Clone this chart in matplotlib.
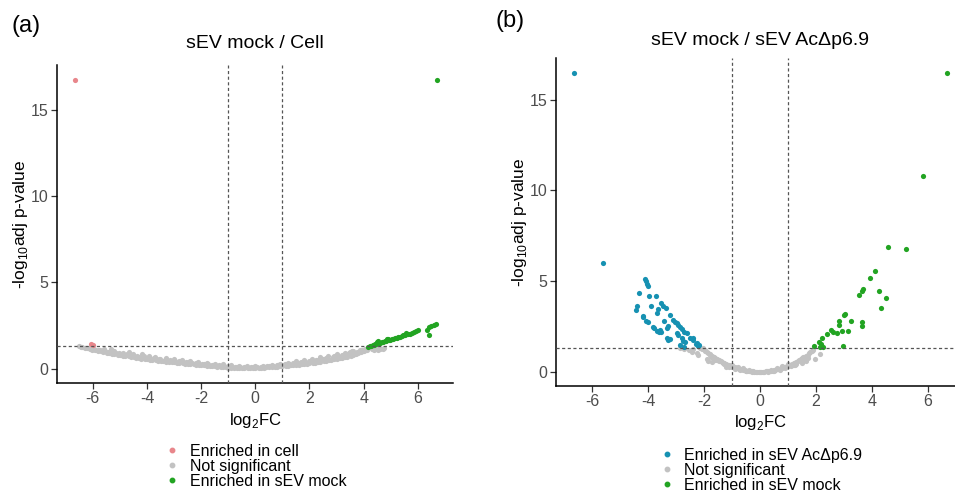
import matplotlib
matplotlib.use("Agg")
import matplotlib.pyplot as plt
from matplotlib.lines import Line2D

plt.rcParams['font.family'] = ['Liberation Sans', 'DejaVu Sans']
plt.rcParams['mathtext.fontset'] = 'custom'
plt.rcParams['mathtext.rm'] = 'Liberation Sans'
plt.rcParams['axes.unicode_minus'] = False

col_cell = "#E8868B"
col_ns = "#C2C2C2"
col_mock = "#22A422"
col_ac = "#1691B2"

# points as (log2FC, -log10 adj p) pairs

# ---- panel (a): sEV mock / Cell ----
a_cell = [(-6.65, 16.75), (-6.05, 1.42), (-5.98, 1.38)]

a_mock = [(6.69, 16.75), (4.16, 1.24), (4.22, 1.28), (4.28, 1.30), (4.33, 1.34), (4.38, 1.36),
          (4.42, 1.40), (4.47, 1.42), (4.50, 1.52), (4.53, 1.59), (4.57, 1.47), (4.62, 1.49),
          (4.68, 1.53), (4.73, 1.56), (4.78, 1.58), (4.82, 1.62), (4.86, 1.69), (4.90, 1.72),
          (4.93, 1.65), (4.98, 1.68), (5.04, 1.71), (5.10, 1.74), (5.16, 1.77), (5.22, 1.80),
          (5.28, 1.83), (5.33, 1.86), (5.40, 1.89), (5.46, 1.92), (5.52, 1.97), (5.58, 2.05),
          (5.63, 2.00), (5.70, 2.03), (5.78, 2.08), (5.85, 2.12), (5.93, 2.16), (6.01, 2.21),
          (6.32, 2.25), (6.40, 2.40), (6.48, 2.46), (6.58, 2.52), (6.66, 2.60), (6.41, 1.92)]

a_ns = [(-6.52, 1.30), (-6.45, 1.24), (-6.38, 1.27), (-6.30, 1.20), (-6.22, 1.17), (-6.15, 1.22),
        (-6.10, 1.12), (-6.02, 1.09), (-5.95, 1.16), (-5.90, 1.06), (-5.82, 1.03), (-5.75, 1.10),
        (-5.70, 0.99), (-5.62, 0.96), (-5.55, 1.03), (-5.48, 0.93), (-5.40, 0.90), (-5.31, 1.14),
        (-5.35, 0.98), (-5.28, 0.86), (-5.20, 0.84), (-5.15, 0.92), (-5.08, 0.80), (-5.00, 0.78),
        (-4.95, 0.86), (-4.88, 0.75), (-4.80, 0.72), (-4.75, 0.82), (-4.66, 0.95), (-4.68, 0.70),
        (-4.60, 0.68), (-4.55, 0.76), (-4.48, 0.65), (-4.40, 0.62), (-4.35, 0.72), (-4.28, 0.60),
        (-4.20, 0.85), (-4.22, 0.58), (-4.15, 0.66), (-4.08, 0.56), (-4.00, 0.54), (-3.92, 0.72),
        (-3.95, 0.62), (-3.88, 0.52), (-3.80, 0.50), (-3.75, 0.59), (-3.68, 0.48), (-3.60, 0.46),
        (-3.55, 0.56), (-3.48, 0.44), (-3.40, 0.42), (-3.35, 0.52), (-3.28, 0.40), (-3.20, 0.39),
        (-3.15, 0.48), (-3.08, 0.37), (-3.00, 0.36), (-2.95, 0.44), (-2.88, 0.34), (-2.80, 0.33),
        (-2.75, 0.42), (-2.68, 0.31), (-2.60, 0.29), (-2.55, 0.38), (-2.48, 0.28), (-2.40, 0.26),
        (-2.35, 0.35), (-2.28, 0.24), (-2.20, 0.23), (-2.15, 0.31), (-2.08, 0.21), (-2.00, 0.20),
        (-1.95, 0.28), (-1.88, 0.18), (-1.80, 0.17), (-1.75, 0.24), (-1.68, 0.15), (-1.60, 0.14),
        (-1.55, 0.21), (-1.48, 0.12), (-1.40, 0.11), (-1.35, 0.18), (-1.28, 0.10), (-1.20, 0.09),
        (-1.15, 0.15), (-1.08, 0.07), (-1.00, 0.06), (-0.95, 0.12), (-0.88, 0.05), (-0.80, 0.04),
        (-0.75, 0.10), (-0.68, 0.03), (-0.60, 0.03), (-0.55, 0.08), (-0.48, 0.02), (-0.40, 0.02),
        (-0.35, 0.07), (-0.28, 0.02), (-0.20, 0.03), (-0.15, 0.07), (-0.08, 0.03), (0.00, 0.04),
        (0.05, 0.08), (0.12, 0.04), (0.20, 0.05), (0.25, 0.10), (0.32, 0.06), (0.40, 0.07),
        (0.45, 0.12), (0.52, 0.08), (0.60, 0.09), (0.65, 0.15), (0.72, 0.10), (0.80, 0.11),
        (0.85, 0.18), (0.92, 0.12), (1.00, 0.13), (1.05, 0.21), (1.12, 0.15), (1.20, 0.16),
        (1.25, 0.25), (1.32, 0.18), (1.40, 0.19), (1.45, 0.29), (1.52, 0.21), (1.60, 0.23),
        (1.65, 0.33), (1.72, 0.25), (1.80, 0.27), (1.85, 0.38), (1.92, 0.29), (2.00, 0.31),
        (2.05, 0.43), (2.12, 0.33), (2.20, 0.35), (2.25, 0.48), (2.32, 0.37), (2.40, 0.40),
        (2.45, 0.53), (2.52, 0.42), (2.60, 0.45), (2.65, 0.59), (2.72, 0.47), (2.80, 0.50),
        (2.85, 0.65), (2.92, 0.53), (3.00, 0.56), (3.05, 0.73), (3.12, 0.59), (3.20, 0.62),
        (3.25, 0.81), (3.32, 0.65), (3.40, 0.69), (3.45, 0.89), (3.50, 0.95), (3.52, 0.73),
        (3.58, 1.02), (3.60, 0.77), (3.65, 0.86), (3.72, 0.83), (3.80, 0.91), (3.85, 1.10),
        (3.92, 0.96), (4.00, 1.01), (4.05, 1.15), (4.12, 1.06), (4.30, 1.12), (4.45, 1.18),
        (4.60, 1.16), (4.52, 1.08), (4.75, 1.22), (4.70, 1.13),
        (-5.60, 1.12), (-5.20, 1.00), (-4.90, 0.92), (-4.50, 0.82), (-4.10, 0.74), (-3.70, 0.66),
        (-3.30, 0.60), (-3.00, 0.55), (-2.70, 0.50), (-2.40, 0.45), (-2.10, 0.40), (-1.80, 0.34),
        (-1.50, 0.29), (-1.20, 0.24), (-0.90, 0.19), (-0.60, 0.15), (-0.30, 0.13), (0.00, 0.14),
        (0.30, 0.17), (0.60, 0.22), (0.90, 0.28), (1.20, 0.35), (1.50, 0.42), (1.80, 0.50),
        (2.10, 0.58), (2.40, 0.66), (2.70, 0.75), (3.00, 0.84), (3.30, 0.93), (3.60, 1.00),
        (3.40, 0.78), (2.90, 0.62), (2.50, 0.55),
        (-5.80, 1.06), (-5.45, 0.97), (-5.05, 0.88), (-4.70, 0.78), (-4.30, 0.69), (-3.90, 0.60),
        (-3.50, 0.53), (-3.10, 0.46), (-2.80, 0.42), (-2.50, 0.36), (-2.20, 0.32), (-1.90, 0.26),
        (-1.60, 0.22), (-1.30, 0.17), (-1.00, 0.14), (-0.70, 0.10), (-0.40, 0.08), (-0.10, 0.09),
        (0.20, 0.11), (0.50, 0.15), (0.80, 0.20), (1.10, 0.25), (1.40, 0.30), (1.70, 0.38),
        (2.00, 0.45), (2.30, 0.52), (2.60, 0.60), (2.90, 0.70), (3.20, 0.76), (3.50, 0.85),
        (3.75, 0.98), (3.95, 1.08), (4.40, 1.05), (4.55, 1.22)]

# ---- panel (b): sEV mock / sEV AcDp6.9 ----
b_ac = [(-6.63, 16.45), (-5.60, 6.00), (-4.10, 5.10), (-4.07, 5.00), (-4.03, 4.85), (-4.00, 4.75),
        (-4.31, 4.33), (-3.95, 4.20), (-3.71, 4.17), (-4.38, 3.63), (-4.44, 3.42), (-3.90, 3.63),
        (-3.54, 3.78), (-3.48, 3.63), (-3.65, 3.47), (-3.69, 3.27), (-3.36, 3.51), (-3.21, 3.14),
        (-4.17, 3.09), (-4.07, 2.81), (-3.99, 2.77), (-3.43, 2.81), (-3.10, 2.86), (-3.04, 2.77),
        (-2.98, 2.68), (-2.92, 2.59), (-2.86, 2.46), (-2.80, 2.35), (-2.71, 2.22), (-2.62, 2.13),
        (-3.27, 2.53), (-3.33, 2.41), (-3.81, 2.46), (-3.69, 2.28), (-3.60, 2.19), (-3.54, 2.22),
        (-2.98, 2.13), (-2.92, 2.04), (-3.33, 1.86), (-3.27, 1.76), (-2.80, 1.86), (-2.74, 1.72),
        (-2.68, 1.67), (-2.40, 1.86), (-2.26, 1.61), (-2.17, 1.49), (-2.86, 1.49), (-2.71, 1.39),
        (-4.17, 3.05), (-3.79, 2.41), (-3.57, 2.31), (-3.21, 1.82), (-2.50, 1.86), (-2.38, 1.76),
        (-2.30, 1.55), (-2.20, 1.42)]

b_mock = [(6.67, 16.45), (5.81, 10.82), (4.58, 6.90), (5.21, 6.76), (4.11, 5.58), (3.94, 5.20),
          (3.69, 4.57), (3.63, 4.46), (3.54, 4.22), (4.26, 4.46), (4.52, 4.08), (4.31, 3.53),
          (3.04, 3.20), (3.00, 3.12), (2.83, 2.83), (2.82, 2.57), (3.27, 2.81), (3.64, 2.77),
          (3.63, 2.55), (2.54, 2.33), (2.60, 2.22), (2.76, 2.17), (2.94, 2.24), (3.15, 2.24),
          (2.38, 2.07), (2.23, 1.86), (2.10, 1.67), (1.94, 1.43), (2.14, 1.39), (2.26, 1.39),
          (2.18, 1.52), (2.98, 1.45)]

b_ns = [(-2.86, 1.30), (-2.70, 1.25), (-2.55, 1.20), (-2.44, 1.12), (-2.38, 1.25), (-2.26, 1.06),
        (-2.15, 1.32), (-2.08, 1.25), (-2.02, 1.30), (-1.98, 1.18), (-1.95, 1.22), (-1.90, 0.70),
        (-1.85, 0.62), (-1.90, 1.12), (-1.85, 1.06), (-1.80, 1.00), (-1.78, 0.95), (-1.73, 0.57),
        (-1.72, 0.90), (-1.68, 0.85), (-1.65, 0.80), (-1.60, 0.76), (-1.55, 0.72), (-1.52, 0.68),
        (-1.48, 0.65), (-1.45, 0.62), (-1.40, 0.58), (-1.36, 0.55), (-1.32, 0.51), (-1.28, 0.48),
        (-1.24, 0.45), (-1.20, 0.42), (-1.15, 0.39), (-1.10, 0.36), (-1.05, 0.33), (-1.00, 0.30),
        (-0.95, 0.27), (-0.90, 0.25), (-0.85, 0.22), (-0.80, 0.20), (-0.75, 0.18), (-0.70, 0.16),
        (-0.65, 0.14), (-0.60, 0.12), (-0.55, 0.10), (-0.50, 0.08), (-0.45, 0.07), (-0.40, 0.06),
        (-0.35, 0.04), (-0.30, 0.03), (-0.25, 0.03), (-0.20, 0.02), (-0.15, 0.01), (-0.10, 0.01),
        (-0.05, 0.01), (0.00, 0.01), (0.05, 0.01), (0.10, 0.02), (0.15, 0.02), (0.20, 0.03),
        (0.25, 0.04), (0.30, 0.05), (0.35, 0.06), (0.40, 0.07), (0.45, 0.08), (0.50, 0.10),
        (0.55, 0.12), (0.60, 0.14), (0.65, 0.16), (0.70, 0.18), (0.75, 0.20), (0.80, 0.23),
        (0.85, 0.25), (0.90, 0.28), (0.95, 0.31), (1.00, 0.34), (1.05, 0.37), (1.10, 0.40),
        (1.15, 0.44), (1.20, 0.48), (1.25, 0.52), (1.30, 0.56), (1.35, 0.60), (1.40, 0.65),
        (1.45, 0.70), (1.50, 0.75), (1.55, 0.80), (1.60, 0.85), (1.65, 0.90), (1.70, 0.96),
        (1.75, 1.02), (1.80, 1.08), (1.85, 1.15), (1.90, 1.22), (1.25, 0.39), (1.49, 0.48),
        (1.64, 0.60), (1.96, 0.73), (2.14, 0.99), (-1.30, 0.42), (-1.10, 0.30), (-0.90, 0.18),
        (-0.70, 0.10), (-0.50, 0.04), (-0.30, 0.00), (0.30, 0.01), (0.50, 0.05), (0.70, 0.12),
        (0.90, 0.20), (1.10, 0.32), (1.30, 0.46), (-1.00, 0.40), (-0.80, 0.30), (-0.60, 0.22),
        (0.60, 0.22), (0.80, 0.32), (1.00, 0.45), (-1.60, 0.64), (-1.75, 0.80), (1.55, 0.62),
        (1.70, 0.78), (-1.20, 0.30), (-0.40, 0.12), (0.40, 0.13), (1.20, 0.38), (-2.20, 0.95)]

fc_cut = 1
p_cut = 1.301
xticks = [-6, -4, -2, 0, 2, 4, 6]
yticks = [0, 5, 10, 15]

fig = plt.figure(figsize=(9.55, 4.96), dpi=100)
ax_a = fig.add_axes([0.0597, 0.2278, 0.4147, 0.641])
ax_b = fig.add_axes([0.5822, 0.2218, 0.4272, 0.6613])


def style(ax, xlim, ylim):
    ax.set_xlim(*xlim)
    ax.set_ylim(*ylim)
    ax.set_xticks(xticks)
    ax.set_yticks(yticks)
    for s in ["top", "right"]:
        ax.spines[s].set_visible(False)
    for s in ["left", "bottom"]:
        ax.spines[s].set_linewidth(1.1)
    ax.tick_params(length=4, width=0.9, color="#333333", labelcolor="#4D4D4D",
                   labelsize=11.5, pad=2)
    for v in (-fc_cut, fc_cut):
        ax.axvline(v, color="#555555", lw=0.9, ls=(0, (2.5, 2)), zorder=5)
    ax.axhline(p_cut, color="#555555", lw=0.9, ls=(0, (2.5, 2)), zorder=5)
    ax.set_xlabel(r"log$_{\mathregular{2}}$FC", fontsize=12, labelpad=3)
    ax.set_ylabel(r"-log$_{\mathregular{10}}$adj p-value", fontsize=12.5, labelpad=1)


def pts(ax, data, c, z):
    xs = [p[0] for p in data]
    ys = [p[1] for p in data]
    ax.scatter(xs, ys, s=14, color=c, lw=0, zorder=z)


pts(ax_a, a_ns, col_ns, 2)
pts(ax_a, a_cell, col_cell, 3)
pts(ax_a, a_mock, col_mock, 3)
style(ax_a, (-7.32, 7.3), (-0.84, 17.62))
ax_a.set_title("sEV mock / Cell", fontsize=14, pad=12)

pts(ax_b, b_ns, col_ns, 2)
pts(ax_b, b_ac, col_ac, 3)
pts(ax_b, b_mock, col_mock, 3)
style(ax_b, (-7.29, 7.29), (-0.77, 17.3))
ax_b.set_title("sEV mock / sEV AcΔp6.9", fontsize=14, pad=9)


def dot(c):
    return Line2D([], [], ls="", marker="o", markersize=3.2, mfc=c, mec=c)


leg_kw = dict(loc="center", frameon=False, fontsize=11.5, labelspacing=0.0,
              handlelength=0.8, handletextpad=0.7, borderpad=0)
fig.legend([dot(col_cell), dot(col_ns), dot(col_mock)],
           ["Enriched in cell", "Not significant", "Enriched in sEV mock"],
           bbox_to_anchor=(0.268, 0.06), **leg_kw)
fig.legend([dot(col_ac), dot(col_ns), dot(col_mock)],
           ["Enriched in sEV AcΔp6.9", "Not significant", "Enriched in sEV mock"],
           bbox_to_anchor=(0.797, 0.052), **leg_kw)

fig.text(0.012, 0.948, "(a)", fontsize=17, va="center")
fig.text(0.519, 0.958, "(b)", fontsize=17, va="center")

fig.savefig("out.png", dpi=100)
